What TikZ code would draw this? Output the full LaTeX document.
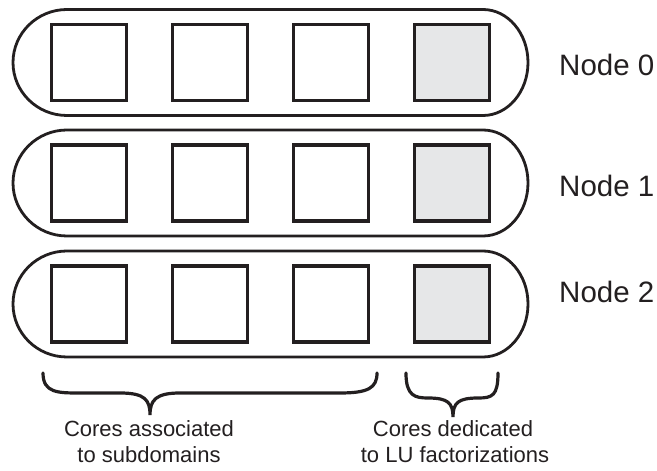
\documentclass[tikz,border=0pt]{standalone}
\usepackage{fontspec}
\setmainfont{Liberation Sans}
\definecolor{ink}{HTML}{231F20}
\definecolor{lufill}{HTML}{E6E7E8}
\begin{document}
\begin{tikzpicture}[x=1pt,y=1pt,
  capsule/.style={draw=ink,line width=2.8pt},
  core/.style={draw=ink,line width=3.5pt,minimum width=75pt,minimum height=76pt,inner sep=0pt,fill=white},
  lucore/.style={core,fill=lufill},
  bracepath/.style={draw=ink,line width=3.2pt,line cap=round},
  nodelabel/.style={anchor=base west,inner sep=0pt,text=ink,font=\fontsize{29.5}{34}\selectfont},
  caption/.style={anchor=base,inner sep=0pt,text=ink,font=\fontsize{22}{27}\selectfont}]
\useasboundingbox (0,0) rectangle (657,471);
% capsules: centre y (image) and half height
\foreach \cy/\n in {62.5/0,183/1,304/2}{
  \pgfmathsetmacro{\T}{471-\cy+53}
  \pgfmathsetmacro{\B}{471-\cy-53}
  \draw[capsule] (67,\T) -- (483,\T) arc[start angle=90,end angle=-90,x radius=45pt,y radius=53pt]
     -- (67,\B) arc[start angle=270,end angle=90,x radius=54pt,y radius=53pt] -- cycle;
  \node[core] (c\n a) at (89,471-\cy) {};
  \node[core] (c\n b) at (210,471-\cy) {};
  \node[core] (c\n c) at (331,471-\cy) {};
  \node[lucore] (c\n d) at (452,471-\cy) {};
}
\node[nodelabel] (n0) at (559,471-76) {Node 0};
\node[nodelabel] (n1) at (559,471-197) {Node 1};
\node[nodelabel] (n2) at (559,471-303) {Node 2};
% braces
\coordinate (bl1) at (43,471-373);
\coordinate (bl2) at (377,471-373);
\coordinate (blt) at (150,471-415);
\draw[bracepath] (bl1) .. controls (43,471-393) and (58,471-393) .. (80,471-393)
  -- (120,471-393) .. controls (145,471-393) and (150,471-400) .. (blt)
  .. controls (150,471-400) and (156,471-393) .. (180,471-393)
  -- (340,471-393) .. controls (368,471-393) and (377,471-388) .. (bl2);
\coordinate (br1) at (406,471-373);
\coordinate (br2) at (498,471-373);
\coordinate (brt) at (453,471-417);
\draw[bracepath] (br1) .. controls (406,471-396) and (415,471-398) .. (428,471-398)
  .. controls (448,471-398) and (453,471-403) .. (brt)
  .. controls (453,471-403) and (458,471-398) .. (478,471-398)
  .. controls (492,471-398) and (498,471-396) .. (br2);
\node[caption] (t1) at (149,471-437) {Cores associated};
\node[caption] (t2) at (149,471-463) {to subdomains};
\node[caption] (t3) at (453,471-437) {Cores dedicated};
\node[caption] (t4) at (455,471-463) {to LU factorizations};
\end{tikzpicture}
\end{document}
